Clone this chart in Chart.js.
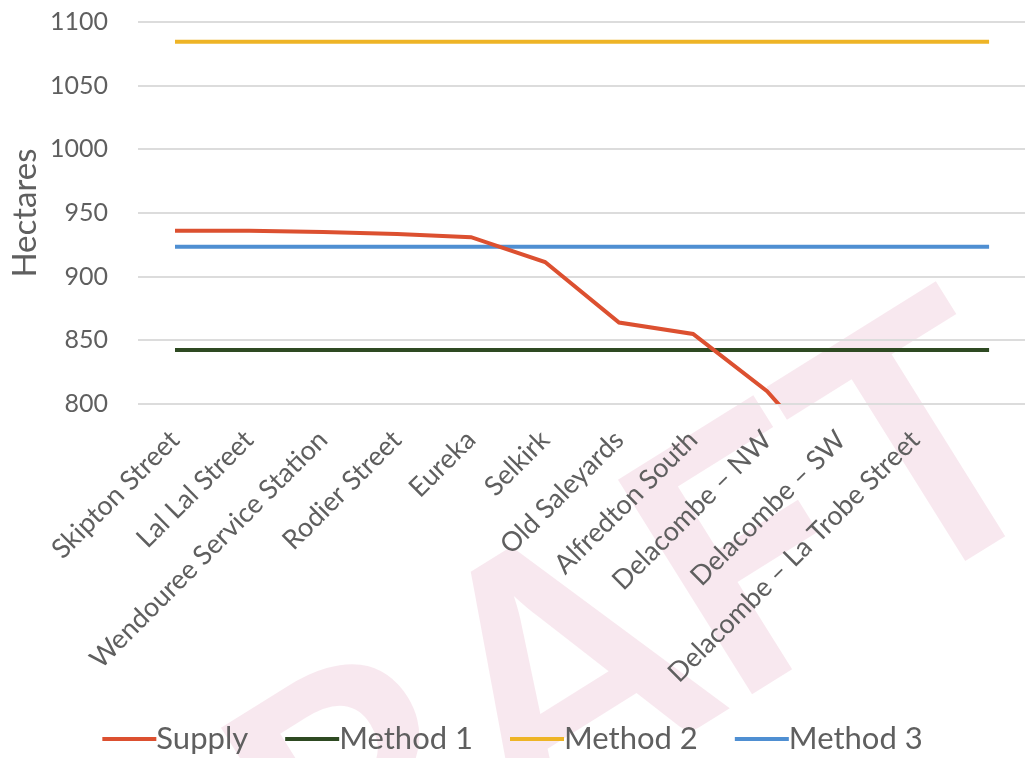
<!DOCTYPE html>
<html>
<head>
<meta charset="utf-8">
<script src="https://cdn.jsdelivr.net/npm/chart.js@4/dist/chart.umd.min.js"></script>
<style>
  html, body { margin: 0; padding: 0; background: #ffffff; overflow: hidden; }
  #wrap { width: 1032px; height: 758px; position: relative; }
</style>
</head>
<body>
<div id="wrap"><canvas id="chart"></canvas></div>
<script>
// Treatment sites along the x axis (last slot is left blank)
const categories = [
  'Skipton Street',
  'Lal Lal Street',
  'Wendouree Service Station',
  'Rodier Street',
  'Eureka',
  'Selkirk',
  'Old Saleyards',
  'Alfredton South',
  'Delacombe \u2013 NW',
  'Delacombe \u2013 SW',
  'Delacombe \u2013 La Trobe Street',
  ''
];

// Cumulative supply (hectares)
const supply = [936, 936, 935, 933.5, 931, 911.5, 864, 855, 810, 745, null, null];

// Requirement estimates from each method (hectares)
const method1 = [842.5, 842.5, 842.5, 842.5, 842.5, 842.5, 842.5, 842.5, 842.5, 842.5, 842.5, 842.5];
const method2 = [1084.5, 1084.5, 1084.5, 1084.5, 1084.5, 1084.5, 1084.5, 1084.5, 1084.5, 1084.5, 1084.5, 1084.5];
const method3 = [923.5, 923.5, 923.5, 923.5, 923.5, 923.5, 923.5, 923.5, 923.5, 923.5, 923.5, 923.5];

const yTicks = [800, 850, 900, 950, 1000, 1050, 1100];

const FONT = 'Lato, "Open Sans", "DejaVu Sans", sans-serif';
const TEXT = '#5f5f5f';
const LEGEND_SPACE = 60;
const VIEW_WIDTH = 1025;   // visible page width; the plot runs slightly past it

// Faint "DRAFT" stamp painted behind the chart
const draftStamp = {
  id: 'draftStamp',
  beforeDraw(chart) {
    const ctx = chart.ctx;
    ctx.save();
    ctx.translate(530, 700);
    ctx.rotate(-32 * Math.PI / 180);
    ctx.font = 'bold 350px ' + FONT;
    ctx.fillStyle = 'rgba(214, 120, 160, 0.17)';
    ctx.textAlign = 'center';
    ctx.textBaseline = 'middle';
    ctx.fillText('DRAFT', 0, 0);
    ctx.restore();
  }
};

// Legend row: line swatch butted straight against its label
const lineLegend = {
  id: 'lineLegend',
  afterDraw(chart) {
    const ctx = chart.ctx;
    const sw = 54, gap = 37, size = 31;
    ctx.save();
    ctx.font = size + 'px ' + FONT;
    const items = chart.data.datasets.map(ds => ({
      text: ds.label, color: ds.borderColor, w: ctx.measureText(ds.label).width
    }));
    const total = items.reduce((s, it) => s + sw + it.w, 0) + gap * (items.length - 1);
    let x = (VIEW_WIDTH - total) / 2;
    const y = chart.height - LEGEND_SPACE / 2 + 11;
    ctx.textBaseline = 'middle';
    ctx.textAlign = 'left';
    items.forEach(it => {
      ctx.strokeStyle = it.color;
      ctx.lineWidth = 4;
      ctx.beginPath();
      ctx.moveTo(x, y);
      ctx.lineTo(x + sw, y);
      ctx.stroke();
      ctx.fillStyle = TEXT;
      ctx.fillText(it.text, x + sw, y);
      x += sw + it.w + gap;
    });
    ctx.restore();
  }
};

const lineSet = (label, data, color) => ({
  label, data,
  borderColor: color,
  backgroundColor: color,
  borderWidth: 4,
  pointRadius: 0,
  pointHoverRadius: 0,
  tension: 0,
  fill: false,
  spanGaps: false
});

new Chart(document.getElementById('chart'), {
  type: 'line',
  data: {
    labels: categories,
    datasets: [
      lineSet('Supply', supply, '#dc5030'),
      lineSet('Method 1', method1, '#2e4a22'),
      lineSet('Method 2', method2, '#eeb426'),
      lineSet('Method 3', method3, '#4f8fd2')
    ]
  },
  options: {
    responsive: true,
    maintainAspectRatio: false,
    animation: false,
    layout: { padding: { top: 22, left: 6, right: 0, bottom: LEGEND_SPACE } },
    plugins: {
      tooltip: { enabled: false },
      legend: { display: false }
    },
    scales: {
      x: {
        type: 'category',
        offset: true,
        grid: { display: false, drawTicks: false },
        border: { display: false },
        ticks: {
          color: TEXT,
          font: { family: FONT, size: 27 },
          minRotation: 45,
          maxRotation: 45,
          autoSkip: false,
          padding: 20
        },
        afterFit(scale) { scale.height = 294; }
      },
      y: {
        min: 800,
        max: 1100,
        afterBuildTicks(scale) { scale.ticks = yTicks.map(v => ({ value: v })); },
        grid: {
          color: '#dcdcdc',
          lineWidth: 2,
          drawTicks: true,
          tickLength: 28,
          tickColor: 'rgba(0,0,0,0)'
        },
        border: { display: false },
        ticks: {
          color: TEXT,
          font: { family: FONT, size: 25 },
          padding: 2,
          callback: v => String(v)
        },
        title: {
          display: true,
          text: 'Hectares',
          color: TEXT,
          font: { family: FONT, size: 33 },
          padding: 0
        },
        afterFit(scale) { scale.width = 132; }
      }
    }
  },
  plugins: [draftStamp, lineLegend]
});
</script>
</body>
</html>
